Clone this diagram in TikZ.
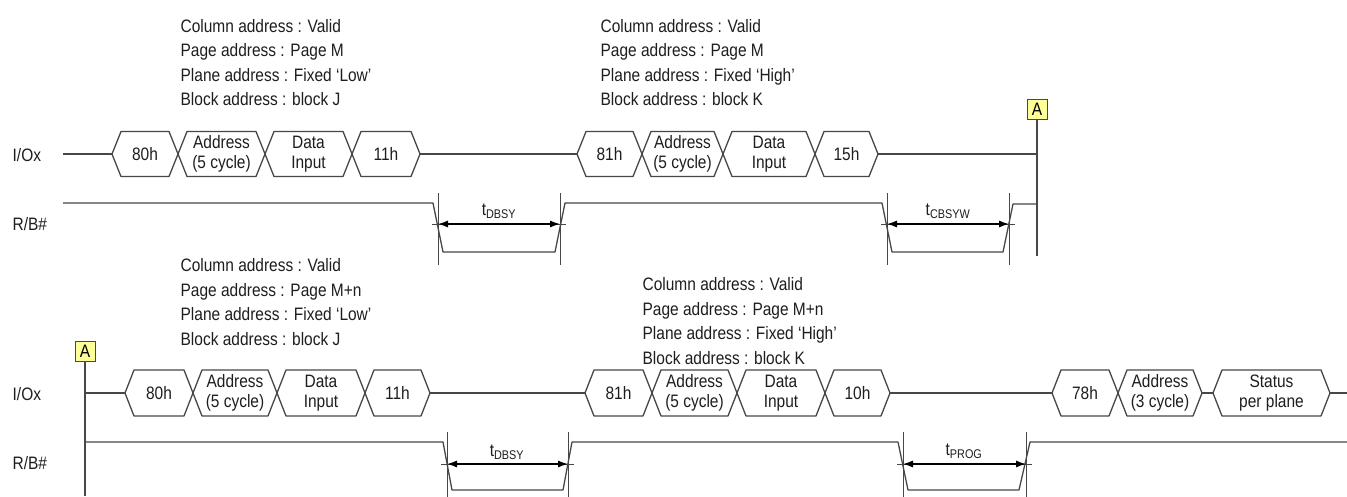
\documentclass[tikz,border=0pt]{standalone}
\usepackage{fontspec}
\setmainfont{Liberation Sans}[FakeStretch=0.86]
\usepackage{xcolor}
\usetikzlibrary{arrows.meta,calc}
\definecolor{WaveInk}{HTML}{474747}
\definecolor{TextInk}{HTML}{1E1E1E}
\definecolor{MarkYellow}{HTML}{FFFF99}
\tikzset{
  every picture/.style={line width=1.3pt},
  wave/.style={draw=WaveInk, line join=round},
  hexlabel/.style={font=\fontsize{18}{20}\selectfont, text=TextInk, align=center, inner sep=0pt},
  siglabel/.style={font=\fontsize{18}{20}\selectfont, text=TextInk, anchor=west, inner sep=0pt},
  notebox/.style={font=\fontsize{18}{24.5}\selectfont, text=TextInk, align=left, anchor=west, inner sep=0pt},
  markline/.style={draw=WaveInk, line width=1pt},
  dimarrow/.style={draw=black, line width=1.2pt, {Latex[length=10pt,width=7pt]}-{Latex[length=10pt,width=7pt]}},
  timelabel/.style={font=\fontsize{18}{20}\selectfont, text=TextInk, inner sep=0pt},
  connbox/.style={draw=WaveInk, fill=MarkYellow, line width=1pt, minimum width=20pt,
    minimum height=20pt, inner sep=0pt, font=\fontsize{18}{20}\selectfont}
}

\begin{document}
\begin{tikzpicture}[x=1pt, y=-1pt]
  \path[use as bounding box, fill=white] (0,0) rectangle (1347,496);

  % address notes
  \node[notebox] (note1) at (180,62.5) {Column address : Valid\\Page address : Page M\\Plane address : Fixed `Low'\\Block address : block J};
  \node[notebox] (note2) at (600,62.5) {Column address : Valid\\Page address : Page M\\Plane address : Fixed `High'\\Block address : block K};
  \node[notebox] (note3) at (180,302) {Column address : Valid\\Page address : Page M+n\\Plane address : Fixed `Low'\\Block address : block J};
  \node[notebox] (note4) at (642,321) {Column address : Valid\\Page address : Page M+n\\Plane address : Fixed `High'\\Block address : block K};

  % first half
  \node[siglabel] (io1) at (12,155) {I/Ox};
  \node[siglabel] (rb1) at (12,224) {R/B\#};
  \node[connbox] (A1) at (1037,109) {A};
  \coordinate (a1end) at (1037,256);
  \draw[wave] (A1.south) -- (a1end);

  \foreach \a/\b/\lbl/\n in {112/178/{80h}/t80, 178/265/{Address\\(5 cycle)}/tadr,
      265/352/{Data\\Input}/tdat, 352/420/{11h}/t11, 577/642/{81h}/t81,
      642/723/{Address\\(5 cycle)}/tadrb, 723/815/{Data\\Input}/tdatb, 815/878/{15h}/t15} {
    \draw[wave] (\a,154) -- ({\a+9},131.5) -- ({\b-9},131.5) -- (\b,154)
      -- ({\b-9},176.5) -- ({\a+9},176.5) -- cycle;
    \node[hexlabel] (\n) at ({(\a+\b)/2},154) {\lbl};
  }
  \draw[wave] (63,154) -- (112,154) (420,154) -- (577,154) (878,154) -- (1037,154);

  \draw[wave] (63,203) -- (433,203) -- (443,252) -- (555,252) -- (565,203) -- (882,203)
    -- (892,252) -- (1003,252) -- (1013,204) -- (1037,204);

  \coordinate (d1) at (438,224);
  \coordinate (d2) at (560,224);
  \coordinate (c1) at (887,224);
  \coordinate (c2) at (1009,224);
  \foreach \m in {d1,d2,c1,c2} {
    \draw[markline] ($(\m)+(0,-31)$) -- ($(\m)+(0,41)$);
  }
  \draw[markline] ($(d1)+(-6,0)$) -- ($(d2)+(6,0)$);
  \draw[markline] ($(c1)+(-6,0)$) -- ($(c2)+(6,0)$);
  \draw[dimarrow] (d1) -- (d2);
  \draw[dimarrow] (c1) -- (c2);
  \node[timelabel] (tdbsy1) at (499,211) {t\textsubscript{DBSY}};
  \node[timelabel] (tcbsyw) at (948,211) {t\textsubscript{CBSYW}};

  % second half
  \node[siglabel] (io2) at (12,394) {I/Ox};
  \node[siglabel] (rb2) at (12,463) {R/B\#};
  \node[connbox] (A2) at (85,351) {A};
  \coordinate (a2end) at (85,496);
  \draw[wave] (A2.south) -- (a2end);

  \foreach \a/\b/\lbl/\n in {125/193/{80h}/b80, 193/277/{Address\\(5 cycle)}/badr,
      277/365/{Data\\Input}/bdat, 365/430/{11h}/b11, 585/652/{81h}/b81,
      652/737/{Address\\(5 cycle)}/badrb, 737/825/{Data\\Input}/bdatb, 825/890/{10h}/b10,
      1052/1118/{78h}/b78, 1118/1202/{Address\\(3 cycle)}/badrc, 1213/1330/{Status\\per plane}/bst} {
    \draw[wave] (\a,393) -- ({\a+9},370) -- ({\b-9},370) -- (\b,393)
      -- ({\b-9},416) -- ({\a+9},416) -- cycle;
    \node[hexlabel] (\n) at ({(\a+\b)/2},393) {\lbl};
  }
  \draw[wave] (85,393) -- (125,393) (430,393) -- (585,393) (890,393) -- (1052,393)
    (1202,393) -- (1213,393) (1330,393) -- (1347,393);

  \draw[wave] (85,442) -- (443,442) -- (452,490) -- (563,490) -- (572,442) -- (898,442)
    -- (908,490) -- (1019,490) -- (1030,442) -- (1347,442);

  \coordinate (e1) at (447,464);
  \coordinate (e2) at (568,464);
  \coordinate (p1) at (903,464);
  \coordinate (p2) at (1026,464);
  \foreach \m in {e1,e2,p1,p2} {
    \draw[markline] ($(\m)+(0,-32)$) -- ($(\m)+(0,34)$);
  }
  \draw[markline] ($(e1)+(-6,0)$) -- ($(e2)+(6,0)$);
  \draw[markline] ($(p1)+(-6,0)$) -- ($(p2)+(6,0)$);
  \draw[dimarrow] (e1) -- (e2);
  \draw[dimarrow] (p1) -- (p2);
  \node[timelabel] (tdbsy2) at (507,452) {t\textsubscript{DBSY}};
  \node[timelabel] (tprog) at (964,451) {t\textsubscript{PROG}};
\end{tikzpicture}
\end{document}
